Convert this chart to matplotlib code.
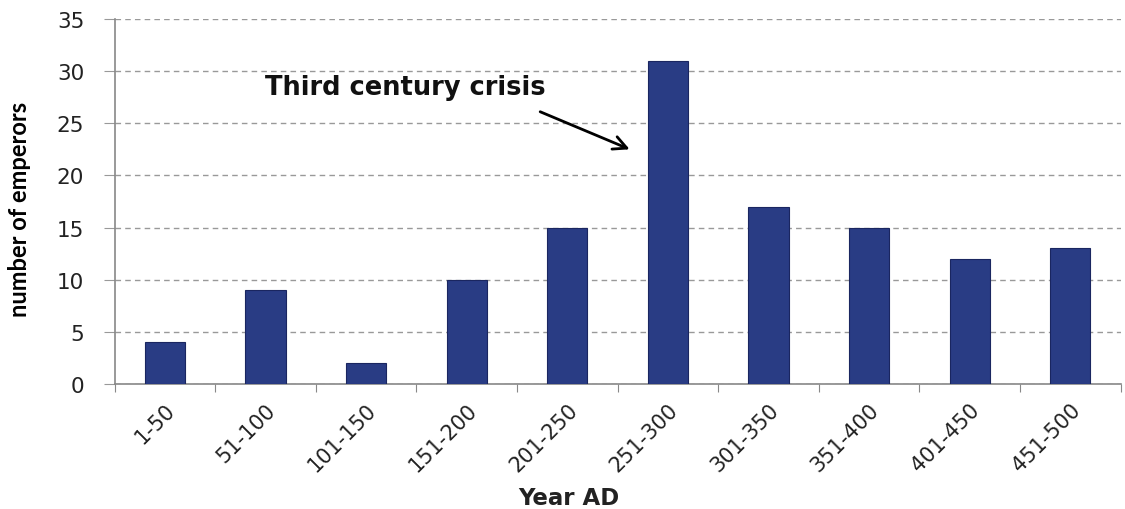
import numpy as np
import matplotlib.pyplot as plt

plt.rcParams['font.family'] = ['DejaVu Sans']

# data
periods = ['1-50', '51-100', '101-150', '151-200', '201-250',
           '251-300', '301-350', '351-400', '401-450', '451-500']
emperors = [4, 9, 2, 10, 15, 31, 17, 15, 12, 13]
note = 'Third century crisis'

fig = plt.figure(figsize=(11.25, 5.1), dpi=100)
ax = fig.add_axes([0.102, 0.245, 0.894, 0.716])

x = np.arange(len(periods))
ax.bar(x, emperors, width=0.4, color='#293c84', edgecolor='#1a2660', linewidth=0.8, zorder=3)

ax.set_xlim(-0.5, len(periods) - 0.5)
ax.set_ylim(0, 35)
ax.set_yticks(np.arange(0, 36, 5))
ax.yaxis.grid(True, linestyle=(0, (4, 3)), color='#999999', linewidth=1.0, zorder=0)

# x ticks at category boundaries, labels at centres
ax.set_xticks(np.arange(-0.5, len(periods), 1.0))
ax.set_xticklabels([])
ax.set_xticks(x, minor=True)
ax.set_xticklabels(periods, minor=True, rotation=45, ha='right', rotation_mode='anchor',
                   fontsize=15, color='#222222')
ax.tick_params(axis='x', which='minor', length=0, pad=11)
ax.tick_params(axis='x', which='major', length=6, direction='out', color='#888888')
ax.tick_params(axis='y', length=8, color='#999999', labelsize=15.5, labelcolor='#222222', pad=14)

for s in ['top', 'right']:
    ax.spines[s].set_visible(False)
ax.spines['left'].set_color('#888888')
ax.spines['bottom'].set_color('#888888')
ax.spines['left'].set_linewidth(1.2)
ax.spines['bottom'].set_linewidth(1.2)

fig.text(0.506, 0.022, 'Year AD', fontsize=16.5, fontweight='bold', ha='center', va='center',
         color='#222222')
ax.set_ylabel('number of emperors', fontsize=17, fontweight='bold',
              family=['Liberation Sans Narrow', 'Lato', 'DejaVu Sans'])
ax.yaxis.set_label_coords(-0.083, 0.48)

ax.text(0.99, 28.5, note, fontsize=18.5, fontweight='bold', va='center', ha='left',
        color='#111111')
ax.annotate('', xy=(4.62, 22.5), xytext=(3.73, 26.1),
            arrowprops=dict(arrowstyle='->', color='black', lw=2,
                            shrinkA=0, shrinkB=0, mutation_scale=24))

fig.savefig('out.png', dpi=100)
